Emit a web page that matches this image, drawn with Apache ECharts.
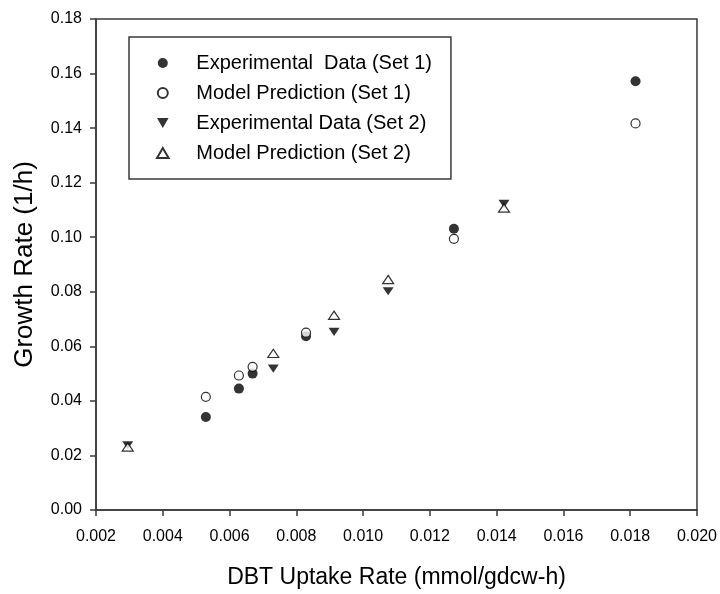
<!DOCTYPE html>
<html>
<head>
<meta charset="utf-8">
<script src="https://cdn.jsdelivr.net/npm/echarts@6/dist/echarts.min.js"></script>
<style>
html,body{margin:0;padding:0;background:#fff;}
#chart{width:720px;height:594px;}
</style>
</head>
<body>
<div id="chart"></div>
<script>
var seriesNames = ['Experimental  Data (Set 1)', 'Model Prediction (Set 1)', 'Experimental Data (Set 2)', 'Model Prediction (Set 2)'];
var set1X = [0.00529, 0.00628, 0.00669, 0.00829, 0.01272, 0.01816];
var set1Exp = [0.0341, 0.0445, 0.0500, 0.0637, 0.1031, 0.1572];
var set1Model = [0.0415, 0.0493, 0.0525, 0.0650, 0.0994, 0.1417];
var set2X = [0.00295, 0.00731, 0.00913, 0.01075, 0.01422];
var set2Exp = [0.0237, 0.0518, 0.0653, 0.0802, 0.1122];
var set2Model = [0.0231, 0.0574, 0.0714, 0.0845, 0.1107];

function pairs(xs, ys) { return xs.map(function (x, i) { return [x, ys[i]]; }); }

var FONT = '"Liberation Sans", Arial, sans-serif';
var AXIS_COLOR = '#3a3a3a';
var TRI_DOWN = 'path://M0,0L11,0L5.5,9.5Z';
var TRI_UP = 'path://M5.5,0L11,9.5L0,9.5Z';

var chart = echarts.init(document.getElementById('chart'), null, { renderer: 'canvas' });
chart.setOption({
  animation: false,
  backgroundColor: '#ffffff',
  textStyle: { fontFamily: FONT, color: '#000' },
  grid: {
    left: 96, right: 23, top: 19, bottom: 83,
    show: true, borderColor: AXIS_COLOR, borderWidth: 1.5, backgroundColor: 'transparent'
  },
  legend: {
    orient: 'vertical',
    left: 129, top: 37,
    padding: [16, 19, 16, 27],
    itemWidth: 57, itemHeight: 10, itemGap: 10,
    borderColor: AXIS_COLOR, borderWidth: 1.5,
    backgroundColor: '#fff',
    textStyle: { fontFamily: FONT, fontSize: 20, color: '#000', lineHeight: 20 },
    data: seriesNames
  },
  xAxis: {
    type: 'value',
    min: 0.002, max: 0.020, interval: 0.002,
    name: 'DBT Uptake Rate (mmol/gdcw-h)',
    nameLocation: 'middle', nameGap: 56,
    nameTextStyle: { fontFamily: FONT, fontSize: 23, color: '#000' },
    axisLine: { show: true, onZero: false, lineStyle: { color: AXIS_COLOR, width: 1.5 } },
    axisTick: { show: true, length: 6, lineStyle: { color: AXIS_COLOR, width: 1.5 } },
    axisLabel: { fontFamily: FONT, fontSize: 16, color: '#000', margin: 19, showMaxLabel: true, showMinLabel: true,
      formatter: function (v) { return v.toFixed(3); } },
    splitLine: { show: false }
  },
  yAxis: {
    type: 'value',
    min: 0, max: 0.18, interval: 0.02,
    name: 'Growth Rate (1/h)',
    nameLocation: 'middle', nameGap: 58,
    nameTextStyle: { fontFamily: FONT, fontSize: 26, color: '#000' },
    axisLine: { show: true, onZero: false, lineStyle: { color: AXIS_COLOR, width: 1.5 } },
    axisTick: { show: true, length: 6, lineStyle: { color: AXIS_COLOR, width: 1.5 } },
    axisLabel: { fontFamily: FONT, fontSize: 16, color: '#000', margin: 14,
      formatter: function (v) { return v.toFixed(2); } },
    splitLine: { show: false }
  },
  series: [
    {
      name: seriesNames[0], type: 'scatter', symbol: 'circle', symbolSize: 10, symbolKeepAspect: true,
      itemStyle: { color: '#000', borderColor: '#000', borderWidth: 0 },
      data: pairs(set1X, set1Exp)
    },
    {
      name: seriesNames[1], type: 'scatter', symbol: 'circle', symbolSize: 9, symbolKeepAspect: true,
      itemStyle: { color: '#fff', borderColor: '#000', borderWidth: 1.2 },
      data: pairs(set1X, set1Model)
    },
    {
      name: seriesNames[2], type: 'scatter', symbol: TRI_DOWN, symbolSize: [11, 9.5], symbolKeepAspect: true,
      itemStyle: { color: '#000', borderColor: '#000', borderWidth: 0 },
      data: pairs(set2X, set2Exp)
    },
    {
      name: seriesNames[3], type: 'scatter', symbol: TRI_UP, symbolSize: [11, 9.5], symbolKeepAspect: true,
      itemStyle: { color: '#fff', borderColor: '#000', borderWidth: 1.2 },
      data: pairs(set2X, set2Model)
    }
  ]
});
</script>
</body>
</html>
